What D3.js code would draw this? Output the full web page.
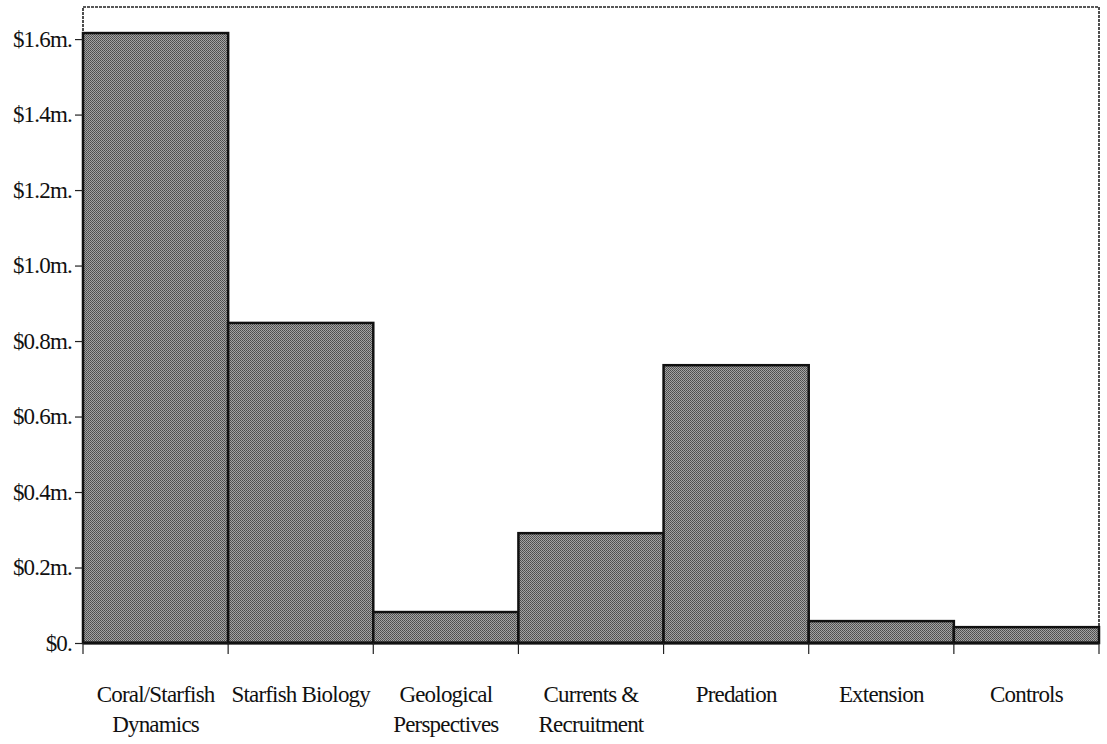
<!DOCTYPE html>
<html>
<head>
<meta charset="utf-8">
<script src="https://cdn.jsdelivr.net/npm/d3@7"></script>
<style>
  body { margin: 0; background: #fff; }
  svg { display: block; }
  text { font-family: "Liberation Serif", "Times New Roman", serif; fill: #111; }
</style>
</head>
<body>
<div id="chart"></div>
<script>
// funding by research program ($ million)
const programs = [
  ["Coral/Starfish", "Dynamics"],
  ["Starfish Biology"],
  ["Geological", "Perspectives"],
  ["Currents &", "Recruitment"],
  ["Predation"],
  ["Extension"],
  ["Controls"]
];
const funding = [1.616, 0.848, 0.082, 0.291, 0.736, 0.058, 0.042];
const yTicks = [0, 0.2, 0.4, 0.6, 0.8, 1.0, 1.2, 1.4, 1.6];
const yMax = 1.685;

const width = 1107, height = 744;
const margin = {top: 7, right: 8, bottom: 101, left: 83};

const svg = d3.select("#chart")
  .append("svg")
    .attr("width", width)
    .attr("height", height);

// stipple pattern to mimic the printed halftone
const defs = svg.append("defs");
const pat = defs.append("pattern")
  .attr("id", "stipple")
  .attr("width", 2).attr("height", 2)
  .attr("patternUnits", "userSpaceOnUse");
pat.append("rect").attr("width", 2).attr("height", 2).attr("fill", "#a4a4a4");
pat.append("rect").attr("width", 1).attr("height", 1).attr("fill", "#4c4c4c");
pat.append("rect").attr("x", 1).attr("y", 1).attr("width", 1).attr("height", 1).attr("fill", "#585858");

const x = d3.scaleBand()
  .domain(programs.map((d, i) => i))
  .range([margin.left, width - margin.right])
  .padding(0);

const y = d3.scaleLinear()
  .domain([0, yMax])
  .range([height - margin.bottom, margin.top]);

// plot frame
svg.append("rect")
  .attr("x", x.range()[0])
  .attr("y", y(yMax))
  .attr("width", x.range()[1] - x.range()[0])
  .attr("height", y(0) - y(yMax))
  .attr("fill", "none")
  .attr("stroke", "#222")
  .attr("stroke-width", 1.6)
  .attr("stroke-dasharray", "3,1");

// bars
svg.selectAll(".bar")
  .data(funding)
  .enter()
  .append("rect")
    .attr("class", "bar")
    .attr("x", (d, i) => x(i))
    .attr("y", d => y(d))
    .attr("width", x.bandwidth())
    .attr("height", d => y(0) - y(d))
    .attr("fill", "url(#stipple)")
    .attr("stroke", "#111")
    .attr("stroke-width", 2.5);

// y axis
const yAxis = svg.append("g")
  .attr("transform", "translate(" + margin.left + ",0)")
  .call(d3.axisLeft(y)
    .tickValues(yTicks)
    .tickSize(8)
    .tickPadding(3)
    .tickFormat(d => d === 0 ? "$0." : "$" + d.toFixed(1) + "m."));
yAxis.select(".domain").remove();
yAxis.selectAll(".tick line").attr("stroke", "#222").attr("stroke-width", 1.2);
yAxis.selectAll(".tick text")
  .attr("font-family", "Liberation Serif, serif")
  .attr("font-size", 23)
  .attr("letter-spacing", -0.8)
  .attr("fill", "#111");

// baseline
svg.append("line")
  .attr("x1", x.range()[0])
  .attr("x2", x.range()[1])
  .attr("y1", y(0))
  .attr("y2", y(0))
  .attr("stroke", "#111")
  .attr("stroke-width", 3);

// category boundary ticks
const bounds = programs.map((d, i) => x(i)).concat([x.range()[1]]);
svg.selectAll(".xtick")
  .data(bounds)
  .enter()
  .append("line")
    .attr("x1", d => d).attr("x2", d => d)
    .attr("y1", y(0)).attr("y2", y(0) + 11)
    .attr("stroke", "#222")
    .attr("stroke-width", 1.2);

// category labels
const labels = svg.selectAll(".xlabel")
  .data(programs)
  .enter()
  .append("text")
    .attr("class", "xlabel")
    .attr("text-anchor", "middle")
    .attr("font-size", 23)
    .attr("letter-spacing", -0.8)
    .attr("x", (d, i) => x(i) + x.bandwidth() / 2)
    .attr("y", y(0) + 59);

labels.selectAll("tspan")
  .data(d => d)
  .enter()
  .append("tspan")
    .attr("x", function() { return d3.select(this.parentNode).attr("x"); })
    .attr("dy", (d, i) => i === 0 ? 0 : 30)
    .text(d => d);
</script>
</body>
</html>
